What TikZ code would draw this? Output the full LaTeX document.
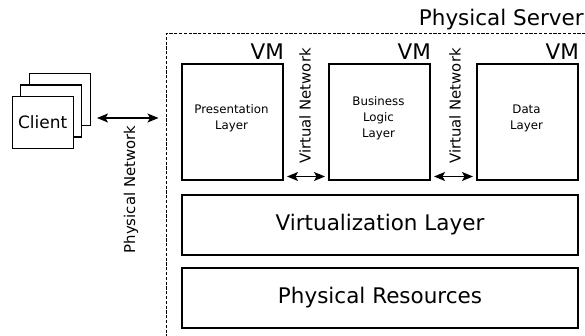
\documentclass[tikz,border=0pt]{standalone}
\usepackage{fontspec}
\setmainfont{DejaVu Sans}
\usetikzlibrary{arrows.meta}
\begin{document}
\begin{tikzpicture}[x=1pt,y=-1pt,
  box/.style={draw, line width=2pt, fill=white, inner sep=0pt, anchor=north west},
  cbox/.style={draw, line width=1.3pt, fill=white, inner sep=0pt, anchor=north west, minimum width=61pt, minimum height=52pt},
  big/.style={font=\fontsize{21.5}{25}\selectfont},
  small/.style={font=\fontsize{11.8}{16}\selectfont, align=center},
  net/.style={font=\fontsize{14.9}{17}\selectfont, rotate=90, inner sep=0pt},
  dbl/.style={{Stealth[length=11pt,width=9pt,inset=2.5pt]}-{Stealth[length=11pt,width=9pt,inset=2.5pt]}, line width=1.3pt, shorten <=3pt, shorten >=3pt},
  vm/.style={big, inner sep=0pt, anchor=base east}]
\useasboundingbox (0,0) rectangle (585,336);
% server
\node[draw, dash pattern=on 3.2pt off 1.6pt, line width=1.4pt, anchor=north west, minimum width=419pt, minimum height=330pt, inner sep=0pt] (server) at (165.5,33) {};
\node[big, inner sep=0pt, anchor=base east] (serverlbl) at ([xshift=-2pt,yshift=7pt]server.north east) {Physical Server};
% clients
\node[cbox] (c3) at (28.5,73) {};
\node[cbox] (c2) at (20,84.5) {};
\node[cbox, font=\fontsize{17}{20}\selectfont] (c1) at (11.5,96) {Client};
% VMs
\node[box, minimum width=101pt, minimum height=116pt] (pres) at (181,63) {};
\node[small] (prestxt) at (231.5,118) {Presentation\\Layer};
\node[box, minimum width=101pt, minimum height=116pt] (bus) at (328,63) {};
\node[small] (bustxt) at (378.5,118) {Business\\Logic\\Layer};
\node[box, minimum width=101pt, minimum height=116pt] (data) at (476,63) {};
\node[small] (datatxt) at (526.5,118) {Data\\Layer};
\node[vm] (vm1) at ([yshift=3pt]pres.north east) {VM};
\node[vm] (vm2) at ([yshift=3pt]bus.north east) {VM};
\node[vm] (vm3) at ([yshift=3pt]data.north east) {VM};
% layers
\node[box, minimum width=396pt, minimum height=60pt] (virt) at (181,194) {};
\node[big] (virttxt) at (virt.center) {Virtualization Layer};
\node[box, minimum width=396pt, minimum height=60pt] (phys) at (181,267) {};
\node[big] (phystxt) at (phys.center) {Physical Resources};
% networks
\draw[dbl] ([yshift=4.5pt]pres.south east) -- ([yshift=4.5pt]bus.south west);
\draw[dbl] ([yshift=4.5pt]bus.south east) -- ([yshift=4.5pt]data.south west);
\node[net] (vn1) at (305,106) {Virtual Network};
\node[net] (vn2) at (455,106) {Virtual Network};
\coordinate (pnl) at (94,118);
\coordinate (pnr) at (server.west |- pnl);
\draw[dbl] (pnl) -- ([xshift=-4pt]pnr);
\node[net] (pn) at (131,189.5) {Physical Network};
\end{tikzpicture}
\end{document}
